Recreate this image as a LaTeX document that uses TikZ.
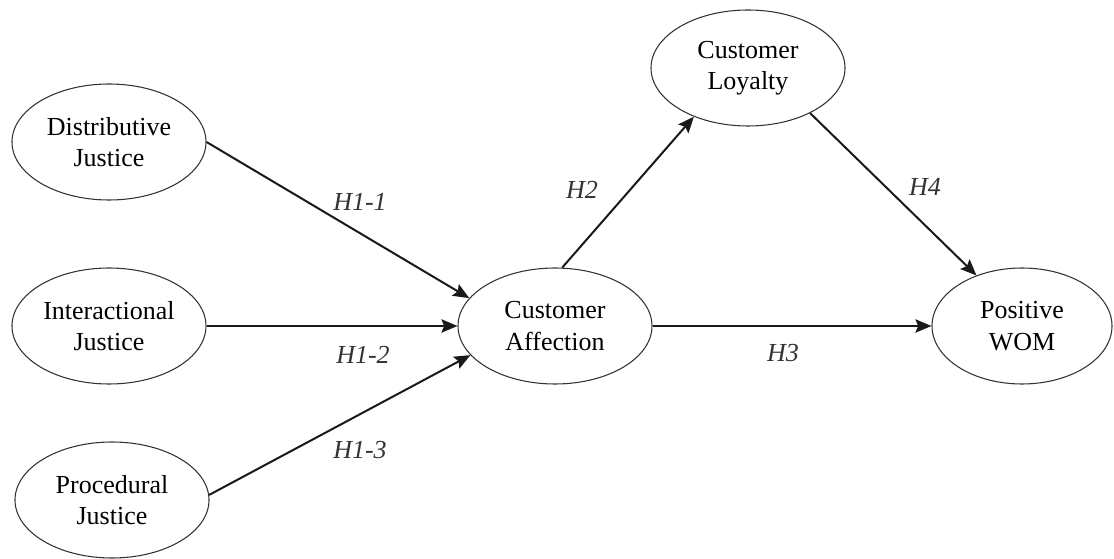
\documentclass[tikz,border=0pt]{standalone}
\usepackage{fontspec}
\setmainfont{Liberation Serif}
\usetikzlibrary{arrows.meta,shapes.geometric}
\begin{document}
\begin{tikzpicture}[x=0.75pt,y=-0.75pt,
  construct/.style={draw=black!80,line width=0.8pt,ellipse,inner sep=0pt,
    minimum width=145.5pt,minimum height=87pt,align=center,
    font=\fontsize{19.5}{23.5}\selectfont},
  path/.style={line width=1.5pt,black!90,-{Stealth[length=12pt,width=10pt,inset=2pt]}},
  hyp/.style={font=\fontsize{19.5}{23.5}\selectfont\itshape,text=black!80}]
\useasboundingbox (0,0) rectangle (1114,559);
\node[construct] (dj) at (109,142) {Distributive\\Justice};
\node[construct] (ij) at (109,326) {Interactional\\Justice};
\node[construct] (pj) at (112,500) {Procedural\\Justice};
\node[construct] (ca) at (555,326) {Customer\\Affection};
\node[construct] (cl) at (748,68) {Customer\\Loyalty};
\node[construct,minimum width=135pt] (wom) at (1022,326) {Positive\\WOM};
\draw[path] (dj.east) -- (ca.162);
\draw[path] (ij.east) -- (ca.west);
\draw[path] (pj.3) -- (ca.199);
\draw[path] (ca.83) -- (cl.222);
\draw[path] (cl.324) -- (wom.132);
\draw[path] (ca.east) -- (wom.west);
\node[hyp] (l11) at (360,202) {H1-1};
\node[hyp] (l12) at (363,355) {H1-2};
\node[hyp] (l13) at (360,450) {H1-3};
\node[hyp] (l2) at (582,190) {H2};
\node[hyp] (l3) at (783,353) {H3};
\node[hyp] (l4) at (925,187) {H4};
\end{tikzpicture}
\end{document}
